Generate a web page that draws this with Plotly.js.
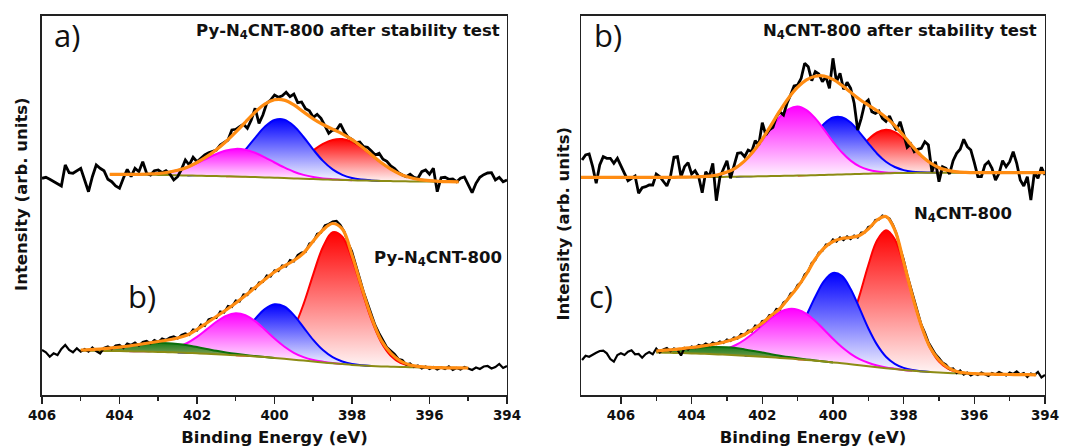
<!DOCTYPE html>
<html><head><meta charset="utf-8">
<script src="https://cdn.plot.ly/plotly-3.0.1.min.js"></script>
<style>html,body{margin:0;padding:0;background:#fff;}#chart{width:1067px;height:448px;}</style>
</head><body><div id="chart"></div>
<script>
// ---------- energy sampling (eV) ----------
function grid(start, step, n){ const a=[]; for(let i=0;i<n;i++) a.push(+(start-step*i).toFixed(3)); return a; }
const rawE_left  = grid(406.0, 0.1, 121);
const rawE_right = grid(407.1, 0.1, 132);
const fitE_UL = grid(404.25, 0.25, 37);
const fitE_LL = grid(405.0, 0.25, 41);
const fitE_UR = grid(407.25, 0.25, 54);
const fitE_LR = grid(405.0, 0.25, 44);

// ---------- (a) Py-N4CNT-800 after stability test ----------
const UL_raw = [216.7,217.7,215.7,213.3,211,209,230,222.3,221.7,224.3,
226.7,215,203.3,218.3,230,226.7,224.3,215.7,213.3,209,
206.7,216.7,225.7,218.3,226.7,223.3,233.3,221.7,220,224.3,
225,222.3,224.3,221,215,218.3,225.7,235,230,237.7,
233.3,236.7,240,242.3,243.3,245,250,252.3,255,265,
265.7,268.3,270.7,266.7,275,286.7,271.7,280,291.7,295,
300,297.7,299.3,302.7,298.3,301,292.3,293,286.3,284.3,
277.7,280.7,276.7,269.3,261.7,265,265,271,263.3,257.7,
255.7,252.3,253,248.3,247.7,244,240,241.7,235.7,233.7,
229,226.3,222.3,220,218.3,220.7,217.7,216.7,223.3,225,
220.7,226.7,203.3,217.3,217.7,215.7,216,213.3,216.7,218,
210,202.3,211.7,217.7,220.3,222,222.3,215,217.7,213.3,215];
const UL_bg = [220.7,220.6,220.5,220.4,220.3,220.1,219.9,219.7,219.5,219.3,219.1,218.9,218.7,218.5,218.2,217.9,217.6,217.3,217.0,216.6,216.2,215.9,215.6,215.3,215.0,214.7,214.5,214.3,214.1,213.9,213.7,213.6,213.5,213.4,213.3,213.2,213.1];
const UL_magenta = [0,0,0.1,0.3,0.7,1.4,2.8,5.0,8.3,12.5,17.4,22.1,25.8,27.6,27.1,24.4,20.1,15.2,10.6,6.7,3.9,2.1,1.0,0.5,0.2,0,0,0,0,0,0,0,0,0,0,0,0];
const UL_blue = [0,0,0,0,0,0,0,0,0,0.7,1.8,4.3,9.0,16.6,27.1,39.3,50.6,57.7,58.4,52.5,41.8,29.5,18.5,10.3,5.1,2.2,0.9,0.3,0,0,0,0,0,0,0,0,0];
const UL_red = [0,0,0,0,0,0,0,0,0,0,0,0,0,0.2,0.5,1.2,2.6,5.0,8.9,14.3,21.2,28.7,35.4,39.8,40.9,38.4,32.9,25.7,18.4,12.0,7.1,3.9,1.9,0.9,0.4,0.2,0.1];
const UL_fit = [220.7,220.6,220.6,220.7,221.0,221.5,222.7,224.7,227.8,232.5,238.3,245.3,253.5,262.9,272.9,282.8,290.9,295.2,294.9,290.1,283.1,276.2,270.5,265.9,261.2,255.3,248.3,240.3,232.5,225.9,220.8,217.5,215.4,214.3,213.7,213.4,213.2];

// ---------- (b) Py-N4CNT-800 ----------
const LL_raw = [45,42.7,38.3,41.7,40,46,50,45,42.7,46.7,
43.3,46.0,43.5,47.5,44.0,41.5,47.0,48.5,46.0,49.5,
50.0,47.0,51.5,50.0,52.5,49.5,53.0,54.0,51.5,55.0,
53.0,56.5,55.0,57.5,58.5,56.5,60.0,61.5,60.0,65.5,
64.5,70.5,69.0,75.5,77.0,77.0,83.5,82.5,89.0,88.0,
94.5,93.5,100.5,100.0,106.5,106.0,112.5,113.0,119.5,118.5,
124.5,124.0,129.5,128.5,135.0,133.5,140.0,142.5,143.0,151.5,
153.0,161.0,162.5,169.5,171.0,173.5,174.0,170.0,163.5,152.0,
143.5,129.0,117.0,103.5,92.5,80.0,70.0,62.0,54.5,48.0,
44.5,41.0,36.0,35.0,30.5,31.5,28.0,29.5,26.5,28.5,
26.0,28.0,25.5,27.5,26.0,28.5,25.0,27.0,25.5,28.0,
26.5,25.0,27.5,26.0,28.5,29.0,26.5,28.0,31.0,27.0,29.0];
const LL_bg = [44.3,44.2,44.1,44.0,43.9,43.7,43.5,43.3,43.1,42.8,42.5,42.1,41.7,41.3,40.8,40.3,39.8,39.2,38.6,37.9,37.1,36.2,35.3,34.4,33.5,32.6,31.7,30.9,30.1,29.5,29.0,28.6,28.3,28.0,27.8,27.6,27.4,27.3,27.2,27.1,27.0];
const LL_red = [0,0,0,0,0,0,0,0,0,0,0,0,0,0,0,0,0,0.2,0.6,2.1,6.1,14.9,31.4,56.5,87.2,115.4,131.0,127.4,106.2,75.9,46.5,24.4,11.0,4.2,1.4,0.4,0.1,0,0,0,0];
const LL_blue = [0,0,0,0,0,0,0,0,0,0,0,0.2,0.5,1.4,3.6,7.9,15.3,25.6,37.5,48.0,53.6,52.3,44.6,33.2,21.6,12.3,6.1,2.6,1.0,0.3,0,0,0,0,0,0,0,0,0,0,0];
const LL_magenta = [0,0,0,0,0,0,0.2,0.5,1.2,2.6,5.4,9.9,16.4,24.3,32.4,38.9,41.9,40.6,35.3,27.6,19.4,12.3,6.9,3.5,1.6,0.7,0.2,0,0,0,0,0,0,0,0,0,0,0,0,0,0];
const LL_green = [0.6,1.0,1.7,2.7,3.9,5.4,6.8,8.0,8.8,9.0,8.5,7.6,6.2,4.8,3.4,2.3,1.4,0.8,0.4,0.2,0,0,0,0,0,0,0,0,0,0,0,0,0,0,0,0,0,0,0,0,0];
const LL_fit = [45.0,45.4,46.0,46.8,47.8,49.0,50.5,52.0,53.5,55.0,57.0,60.0,65.5,72.0,78.5,85.0,92.0,99.5,107.5,115.5,123.0,129.0,134.5,142.0,154.0,165.0,171.5,166.0,140.0,108.0,78.0,55.0,42.0,34.0,30.0,28.3,27.6,27.3,27.2,27.1,27.0];

// ---------- (b) N4CNT-800 after stability test ----------
const UR_raw = [235,240,241,228.3,211.7,230,238.3,236.7,236.7,231.7,
236.7,230,221.7,214.3,216.7,219,201.7,207.3,208.3,210,
210,221,218.3,213.3,209,218.3,237.7,238.3,218.3,228.3,
232.3,221,224.3,218.3,202.3,223.3,218.3,231.7,194.3,217.7,
226.7,234.3,216.7,230,241.7,242.3,238.3,245,243.3,254.3,
250,272.3,260,265,267.7,278.3,283,280,291.7,300,
309,310,316.7,331.7,328.3,314.3,323.3,321,313.3,318.3,
306.7,336.7,313.3,321.7,305.7,312.7,306.7,291.7,265,276.7,
291.7,295,283.3,281.7,284,276.7,273.7,279,271,265,
273.3,261,247.7,251,243.3,245.7,246.7,253.3,250,223.3,
233.3,213.3,228.3,226.7,221,234.3,241.7,245.7,255.7,248.3,
245,232.3,218.3,218.3,230,233.3,226.7,215,221.7,234.3,
228.3,233.3,243.3,231.7,215,209,218.3,195,222.3,216.7,227.7,220];
const UR_bg = [217.7,217.7,217.7,217.7,217.7,217.7,217.7,217.7,217.7,217.7,217.7,217.7,217.8,217.8,217.9,217.9,218.0,218.2,218.3,218.5,218.6,218.8,218.9,219.1,219.2,219.4,219.6,219.8,220.0,220.3,220.5,220.8,221.0,221.3,221.5,221.7,221.9,222.0,222.1,222.2,222.3,222.3,222.3,222.3,222.3,222.3,222.3,222.3,222.3,222.3,222.3,222.3,222.3,222.3];
const UR_magenta = [0,0,0,0,0,0,0,0,0,0,0,0,0.1,0.2,0.4,1.0,2.3,4.7,8.9,15.4,24.6,35.9,48.2,59.2,66.7,69.0,65.3,56.8,45.3,33.1,22.2,13.6,7.7,4.0,1.9,0.8,0.3,0.1,0,0,0,0,0,0,0,0,0,0,0,0,0,0,0,0];
const UR_blue = [0,0,0,0,0,0,0,0,0,0,0,0,0,0,0,0,0,0,0,0.2,0.5,1.2,2.8,6.0,11.4,19.4,29.9,41.3,51.3,57.2,57.3,51.6,41.7,30.4,19.8,11.6,6.1,2.9,1.2,0.5,0.2,0,0,0,0,0,0,0,0,0,0,0,0,0];
const UR_red = [0,0,0,0,0,0,0,0,0,0,0,0,0,0,0,0,0,0,0,0,0,0,0,0,0,0,0.3,0.9,2.3,5.0,9.7,16.7,25.4,34.2,41.0,43.5,41.0,34.2,25.4,16.7,9.7,5.0,2.3,0.9,0.3,0,0,0,0,0,0,0,0,0];
const UR_fit = [217.7,217.7,217.7,217.7,217.7,217.7,217.7,217.7,217.7,217.7,217.7,217.7,217.9,218.0,218.3,218.9,220.3,222.9,227.2,234.1,243.7,255.9,269.9,284.3,297.3,307.8,315.1,318.8,318.9,315.6,309.7,302.7,295.8,289.9,284.2,277.6,269.3,259.2,248.7,239.4,232.2,227.3,224.6,223.2,222.6,222.3,222.3,222.3,222.3,222.3,222.3,222.3,222.3,222.3];

// ---------- (c) N4CNT-800 ----------
const LR_raw = [35,39.3,38.3,40.7,42.3,44,44.3,41.7,36,33.3,
40,41.7,40,43.3,44.7,40.7,41,37.3,41,43,
40.7,46.5,42.5,45.5,47.0,44.0,46.5,45.0,39.5,47.0,
45.5,48.5,47.0,50.0,49.0,51.5,49.5,52.5,51.0,53.5,
52.0,55.5,54.0,57.5,56.5,61.0,60.0,64.5,63.5,69.5,
68.5,74.0,74.5,80.0,80.0,86.0,85.5,92.5,94.5,101.5,
103.0,110.0,112.5,120.5,123.5,132.0,135.0,142.5,144.0,150.5,
150.5,155.5,153.5,157.5,155.0,158.5,156.0,159.5,157.5,162.5,
162.5,168.0,169.0,175.0,175.5,179.5,178.0,176.5,170.0,161.0,
147.0,135.5,120.5,108.5,94.0,83.5,70.5,62.5,53.0,47.0,
41.0,37.0,32.5,30.5,26.0,26.5,22.0,24.5,20.5,22.5,
19.5,21.5,20.0,22.5,21.0,19.0,22.0,20.5,23.0,21.5,
19.5,22.5,21.0,23.5,20.5,22.0,18.0,21.5,20.0,23.0,17.5,20.0];
const LR_bg = [42.5,42.3,42.1,41.9,41.6,41.3,41.0,40.6,40.2,39.8,39.3,38.8,38.3,37.7,37.1,36.5,35.8,35.1,34.3,33.5,32.6,31.7,30.8,29.8,28.8,27.8,26.8,25.9,25.0,24.2,23.5,22.9,22.4,22.0,21.7,21.5,21.2,21.0,20.8,20.6,20.5,20.4,20.3,20.2];
const LR_red = [0,0,0,0,0,0,0,0,0,0,0,0,0,0,0,0,0,0.4,1.2,3.7,9.6,21.5,41.5,69.6,101.0,126.9,137.9,129.8,105.8,74.6,45.6,24.1,11.0,4.4,1.5,0.4,0,0,0,0,0,0,0,0];
const LR_blue = [0,0,0,0,0,0,0,0,0,0,0,0.4,1.1,3.0,7.1,14.8,27.4,44.6,63.9,80.6,89.4,87.4,75.2,57.0,38.0,22.3,11.5,5.3,2.1,0.7,0.2,0,0,0,0,0,0,0,0,0,0,0,0,0];
const LR_magenta = [0,0,0,0,0.3,0.8,1.7,3.3,6.0,10.2,16.0,23.2,31.4,39.4,45.9,49.5,49.6,46.1,39.7,31.8,23.6,16.2,10.4,6.1,3.4,1.7,0.8,0.4,0.1,0,0,0,0,0,0,0,0,0,0,0,0,0,0,0];
const LR_green = [1.3,2.0,2.9,4.0,5.1,6.1,6.9,7.4,7.5,7.1,6.3,5.3,4.2,3.1,2.2,1.4,0.9,0.5,0.3,0.1,0,0,0,0,0,0,0,0,0,0,0,0,0,0,0,0,0,0,0,0,0,0,0,0];
const LR_fit = [44.0,44.8,45.5,46.5,47.5,48.7,50.0,51.5,53.7,56.5,60.5,66.0,72.0,79.5,86.5,97.0,108.0,121.0,136.0,147.0,153.5,156.5,157.5,159.5,166.0,175.0,178.5,165.0,133.0,99.0,69.5,47.5,35.0,27.5,23.5,22.0,21.4,21.0,20.8,20.6,20.5,20.4,20.3,20.2];

const tickVals = [406,404,402,400,398,396,394];
const minorVals = [405,403,401,399,397,395];

// ---------- styling ----------
const STY = {
  red:     {line:'#ff0000', scale:[[0,'#fff6f6'],[1,'#ff0000']]},
  blue:    {line:'#0000ff', scale:[[0,'#f8f8ff'],[1,'#0000ff']]},
  magenta: {line:'#ff00ff', scale:[[0,'#fff6ff'],[1,'#ff00ff']]},
  green:   {line:'#0c6f0c', scale:[[0,'#9aa866'],[1,'#1b7d1b']]}
};
const traces = [];
function support(arr){ let a=-1,b=-1; arr.forEach((v,i)=>{ if(v>0){ if(a<0)a=i; b=i; } }); return [Math.max(0,a-1), Math.min(arr.length-1,b+1)]; }
function addSpectrum(xa, ya, E, bg, comps, fit, rawE, raw, rawW){
  comps.forEach(c=>{
    const [i0,i1] = support(c.v);
    const xs = E.slice(i0,i1+1), b = bg.slice(i0,i1+1);
    const top = b.map((v,k)=>v + c.v[i0+k]);
    traces.push({x:xs, y:b, xaxis:xa, yaxis:ya, mode:'lines', line:{width:0, shape:'spline'}, hoverinfo:'skip', showlegend:false});
    traces.push({x:xs, y:top, xaxis:xa, yaxis:ya, mode:'lines', line:{color:STY[c.k].line, width:2, shape:'spline'},
      fill:'tonexty', fillcolor:STY[c.k].line, fillgradient:{type:'vertical', colorscale:STY[c.k].scale}, showlegend:false});
  });
  traces.push({x:E, y:bg, xaxis:xa, yaxis:ya, mode:'lines', line:{color:'#8c8c14', width:2, shape:'spline'}, showlegend:false});
  traces.push({x:rawE, y:raw, xaxis:xa, yaxis:ya, mode:'lines', line:{color:'#000000', width:rawW}, showlegend:false});
  traces.push({x:E, y:fit, xaxis:xa, yaxis:ya, mode:'lines', line:{color:'#ff8c12', width:3.2, shape:'spline'}, showlegend:false});
}
addSpectrum('x','y', fitE_UL, UL_bg, [{k:'red',v:UL_red},{k:'blue',v:UL_blue},{k:'magenta',v:UL_magenta}], UL_fit, rawE_left, UL_raw, 2.8);
addSpectrum('x','y', fitE_LL, LL_bg, [{k:'red',v:LL_red},{k:'blue',v:LL_blue},{k:'magenta',v:LL_magenta},{k:'green',v:LL_green}], LL_fit, rawE_left, LL_raw, 2.2);
addSpectrum('x2','y2', fitE_UR, UR_bg, [{k:'red',v:UR_red},{k:'blue',v:UR_blue},{k:'magenta',v:UR_magenta}], UR_fit, rawE_right, UR_raw, 2.8);
addSpectrum('x2','y2', fitE_LR, LR_bg, [{k:'red',v:LR_red},{k:'blue',v:LR_blue},{k:'magenta',v:LR_magenta},{k:'green',v:LR_green}], LR_fit, rawE_right, LR_raw, 2.2);

const FONT = 'DejaVu Sans, Liberation Sans, Arial, sans-serif';
function xAxis(dom, range){
  return {domain:dom, range:range, tickmode:'array', tickvals:tickVals, ticktext:tickVals.map(String),
    ticks:'outside', ticklen:7, tickwidth:1.5, tickcolor:'#222', showline:true, linecolor:'#222', linewidth:1.5, mirror:true,
    showgrid:false, zeroline:false, tickfont:{family:FONT, size:13.5, color:'#111', weight:'bold'},
    minor:{tickvals:minorVals, ticks:'outside', ticklen:4, tickwidth:1.5, tickcolor:'#222', showgrid:false},
    title:{text:'Binding Energy (eV)', font:{family:FONT, size:16.5, color:'#111', weight:'bold'}, standoff:9}};
}
function yAxis(anchor){
  return {domain:[0.1183,0.9643], range:[0,379], anchor:anchor, showticklabels:false, ticks:'', showline:true, linecolor:'#222',
    linewidth:1.5, mirror:true, showgrid:false, zeroline:false};
}
const lblFont = {family:'Open Sans, sans-serif', size:31, color:'#111'};
const ttlFont = {family:FONT, size:16.5, color:'#111', weight:'bold'};
const annotations = [
  {text:'a)', x:0.0628, y:0.9219, font:lblFont},
  {text:'b)', x:0.1331, y:0.3393, font:lblFont},
  {text:'b)', x:0.5698, y:0.9219, font:lblFont},
  {text:'c)', x:0.5633, y:0.3393, font:lblFont},
  {text:'Py-N<sub>4</sub>CNT-800 after stability test', x:0.4705, y:0.9308, xanchor:'right', font:ttlFont},
  {text:'Py-N<sub>4</sub>CNT-800', x:0.3486, y:0.4241, xanchor:'left', font:ttlFont},
  {text:'N<sub>4</sub>CNT-800 after stability test', x:0.9738, y:0.9308, xanchor:'right', font:ttlFont},
  {text:'N<sub>4</sub>CNT-800', x:0.8547, y:0.5201, xanchor:'left', font:ttlFont},
  {text:'Intensity (arb. units)', x:0.0206, y:0.567, textangle:-90, font:ttlFont},
  {text:'Intensity (arb. units)', x:0.5277, y:0.501, textangle:-90, font:ttlFont}
].map(a=>Object.assign({xref:'paper', yref:'paper', showarrow:false, xanchor:'center', yanchor:'middle'}, a));

const layout = {
  width:1067, height:448, margin:{l:0,r:0,t:0,b:0}, paper_bgcolor:'#fff', plot_bgcolor:'#fff', showlegend:false,
  xaxis: Object.assign(xAxis([0.03936,0.47516],[406,394]), {anchor:'y'}),
  yaxis: yAxis('x'),
  xaxis2: Object.assign(xAxis([0.54452,0.97938],[407.13,394]), {anchor:'y2'}),
  yaxis2: yAxis('x2'),
  annotations: annotations
};
Plotly.newPlot('chart', traces, layout, {staticPlot:true, displayModeBar:false});
</script></body></html>
